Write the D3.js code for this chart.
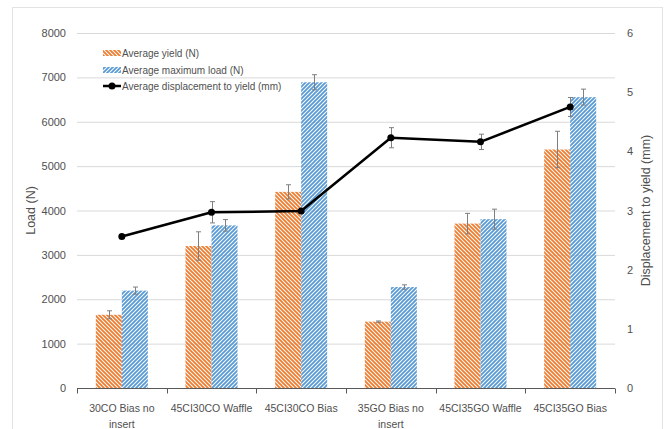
<!DOCTYPE html>
<html>
<head>
<meta charset="utf-8">
<script src="https://cdn.jsdelivr.net/npm/d3@7"></script>
<style>
  html, body { margin: 0; padding: 0; background: #fff; }
  svg { display: block; font-family: "Liberation Sans", Arial, sans-serif; }
</style>
</head>
<body>
<svg id="chart" width="672" height="429"></svg>
<script>
// Specimen groups
const categories = ["30CO Bias no insert", "45CI30CO Waffle", "45CI30CO Bias",
                    "35GO Bias no insert", "45CI35GO Waffle", "45CI35GO Bias"];
// Average yield load (N) and its spread
const yieldLoad = [1650, 3200, 4420, 1495, 3705, 5375];
const yieldErr = [90, 320, 160, 15, 230, 410];
// Average maximum load (N) and its spread
const maxLoad = [2195, 3665, 6890, 2275, 3805, 6555];
const maxLoadErr = [80, 130, 170, 50, 225, 180];
// Average displacement to yield (mm) and its spread
const displacement = [2.56, 2.97, 2.99, 4.23, 4.16, 4.75];
const displacementErr = [0.03, 0.18, 0.03, 0.17, 0.13, 0.16];
// Axis ticks
const loadTicks = [0, 1000, 2000, 3000, 4000, 5000, 6000, 7000, 8000];
const dispTicks = [0, 1, 2, 3, 4, 5, 6];

const svg = d3.select("#chart");
const m = { left: 77, right: 615, top: 33, bottom: 388 };
const textColor = "#505050";
const orange = "#ED7D31", blue = "#5B9BD5";

// Chart frame
svg.append("rect").attr("x", 12.5).attr("y", 7.5).attr("width", 650).attr("height", 440)
  .attr("fill", "none").attr("stroke", "#e3e3e3");

// Hatch fills
const defs = svg.append("defs");
function hatch(id, color, d) {
  defs.append("pattern").attr("id", id).attr("patternUnits", "userSpaceOnUse")
    .attr("width", 4).attr("height", 4)
    .append("path").attr("d", d).attr("stroke", color).attr("stroke-width", 1.9)
    .attr("fill", "none").attr("stroke-linecap", "square");
}
hatch("hatchDown", orange, "M-1,3 L1,5 M0,0 L4,4 M3,-1 L5,1");
hatch("hatchUp", blue, "M-1,1 L1,-1 M0,4 L4,0 M3,5 L5,3");

const x = d3.scaleBand().domain(categories).range([m.left, m.right]);
const yL = d3.scaleLinear().domain([0, 8000]).range([m.bottom, m.top]);
const yR = d3.scaleLinear().domain([0, 6]).range([m.bottom, m.top]);
const barW = x.bandwidth() * 0.29;

// Gridlines
svg.append("g").selectAll("line").data(loadTicks.filter(t => t > 0)).join("line")
  .attr("x1", m.left).attr("x2", m.right)
  .attr("y1", d => yL(d) + 0.5).attr("y2", d => yL(d) + 0.5)
  .attr("stroke", "#d9d9d9").attr("stroke-width", 1);

// Left axis labels
const leftAxis = svg.append("g").attr("transform", `translate(${m.left},0)`)
  .call(d3.axisLeft(yL).tickValues(loadTicks).tickFormat(d3.format("d")).tickSize(0).tickPadding(11));
leftAxis.select(".domain").remove();
leftAxis.selectAll("text").attr("fill", textColor).attr("font-size", 11)
  .attr("font-family", "Liberation Sans, Arial, sans-serif");

// Right axis labels
const rightAxis = svg.append("g").attr("transform", `translate(${m.right},0)`)
  .call(d3.axisRight(yR).tickValues(dispTicks).tickFormat(d3.format("d")).tickSize(0).tickPadding(12));
rightAxis.select(".domain").remove();
rightAxis.selectAll("text").attr("fill", textColor).attr("font-size", 11)
  .attr("font-family", "Liberation Sans, Arial, sans-serif");

// Bars
const groups = categories.map((c, i) => ({ c, i }));
svg.append("g").selectAll("rect").data(groups).join("rect")
  .attr("x", d => x(d.c) + x.bandwidth() / 2 - barW)
  .attr("width", barW)
  .attr("y", d => yL(yieldLoad[d.i]))
  .attr("height", d => yL(0) - yL(yieldLoad[d.i]))
  .attr("fill", "url(#hatchDown)");
svg.append("g").selectAll("rect").data(groups).join("rect")
  .attr("x", d => x(d.c) + x.bandwidth() / 2)
  .attr("width", barW)
  .attr("y", d => yL(maxLoad[d.i]))
  .attr("height", d => yL(0) - yL(maxLoad[d.i]))
  .attr("fill", "url(#hatchUp)");

// Error bars
function errorBars(cx, vals, errs, scale) {
  const g = svg.append("g").attr("stroke", "#7f7f7f").attr("stroke-width", 1).attr("fill", "none");
  categories.forEach((c, i) => {
    const px = Math.round(cx(c, i)) + 0.5;
    const y1 = scale(vals[i] - errs[i]), y2 = scale(vals[i] + errs[i]);
    g.append("line").attr("x1", px).attr("x2", px).attr("y1", y1).attr("y2", y2);
    g.append("line").attr("x1", px - 2.5).attr("x2", px + 2.5).attr("y1", y1).attr("y2", y1);
    g.append("line").attr("x1", px - 2.5).attr("x2", px + 2.5).attr("y1", y2).attr("y2", y2);
  });
}
errorBars((c) => x(c) + x.bandwidth() / 2 - barW / 2, yieldLoad, yieldErr, yL);
errorBars((c) => x(c) + x.bandwidth() / 2 + barW / 2, maxLoad, maxLoadErr, yL);

// X axis
const xAxisG = svg.append("g").attr("transform", `translate(0,${m.bottom + 0.5})`);
xAxisG.append("line").attr("x1", m.left).attr("x2", m.right).attr("stroke", "#595959").attr("stroke-width", 1.2);
const bounds = categories.map(c => x(c)).concat([m.right]);
xAxisG.selectAll("line.tk").data(bounds).join("line").attr("class", "tk")
  .attr("x1", d => Math.round(d) + 0.5).attr("x2", d => Math.round(d) + 0.5)
  .attr("y1", 0).attr("y2", 5).attr("stroke", "#595959");

// Category labels, wrapped to two lines where needed
const wraps = { "30CO Bias no insert": ["30CO Bias no", "insert"], "35GO Bias no insert": ["35GO Bias no", "insert"] };
categories.forEach(c => {
  const lines = wraps[c] || [c];
  const t = svg.append("text").attr("text-anchor", "middle").attr("fill", textColor)
    .attr("font-size", 10.5).attr("x", x(c) + x.bandwidth() / 2).attr("y", 412);
  lines.forEach((l, k) => t.append("tspan").attr("x", x(c) + x.bandwidth() / 2).attr("dy", k ? 16 : 0).text(l));
});

// Displacement line with error bars and markers
const cxLine = (c) => x(c) + x.bandwidth() / 2;
errorBars(cxLine, displacement, displacementErr, yR);
svg.append("path").datum(displacement)
  .attr("d", d3.line().x((d, i) => cxLine(categories[i])).y(d => yR(d)))
  .attr("fill", "none").attr("stroke", "#000").attr("stroke-width", 2.5).attr("stroke-linejoin", "round");
svg.append("g").selectAll("circle").data(displacement).join("circle")
  .attr("cx", (d, i) => cxLine(categories[i])).attr("cy", d => yR(d)).attr("r", 3.5).attr("fill", "#000");

// Axis titles
svg.append("text").attr("transform", `translate(35,${(m.top + m.bottom) / 2}) rotate(-90)`)
  .attr("text-anchor", "middle").attr("fill", textColor).attr("font-size", 12.5).text("Load (N)");
svg.append("text").attr("transform", `translate(650,${(m.top + m.bottom) / 2}) rotate(-90)`)
  .attr("text-anchor", "middle").attr("fill", textColor).attr("font-size", 12.5).text("Displacement to yield (mm)");

// Legend
const legend = svg.append("g");
const lx = 103, lw = 18;
legend.append("rect").attr("x", lx).attr("y", 50).attr("width", lw).attr("height", 6).attr("fill", "url(#hatchDown)");
legend.append("rect").attr("x", lx).attr("y", 67).attr("width", lw).attr("height", 6).attr("fill", "url(#hatchUp)");
legend.append("line").attr("x1", lx).attr("x2", lx + lw).attr("y1", 86).attr("y2", 86)
  .attr("stroke", "#000").attr("stroke-width", 2.5);
legend.append("circle").attr("cx", lx + lw / 2).attr("cy", 86).attr("r", 3.5).attr("fill", "#000");
[["Average yield (N)", 53], ["Average maximum load (N)", 70], ["Average displacement to yield (mm)", 86]]
  .forEach(([t, yy]) => legend.append("text").attr("x", lx + lw + 1).attr("y", yy).attr("dy", "0.35em")
    .attr("fill", textColor).attr("font-size", 10).text(t));
</script>
</body>
</html>
